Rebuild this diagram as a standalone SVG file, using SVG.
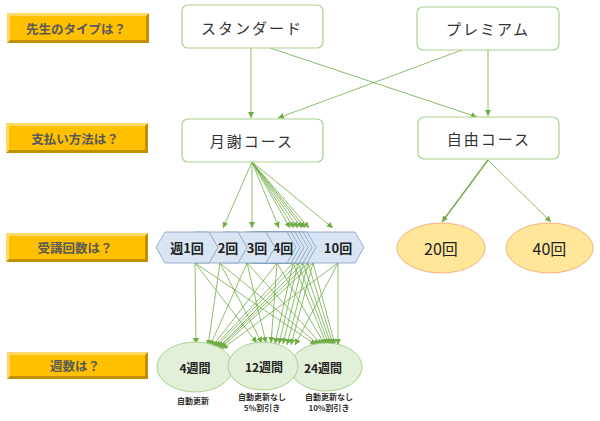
<svg xmlns="http://www.w3.org/2000/svg" width="600" height="421" viewBox="0 0 600 421">
<style>
.lbl{font-family:"Noto Sans CJK JP","Noto Sans",sans-serif;font-size:12.5px;font-weight:bold;fill:#595959;text-anchor:middle;dominant-baseline:central}
.node rect{fill:#fff;stroke:#A9D18E;stroke-width:1.2}
.nt{font-family:"Noto Sans CJK JP",sans-serif;font-size:15px;fill:#333;text-anchor:middle;dominant-baseline:central;letter-spacing:2px}
.hex{fill:#DAE5F3;stroke:#7F9DC0;stroke-width:0.8}
.ht{font-family:"Noto Sans CJK JP",sans-serif;font-size:13px;font-weight:bold;fill:#222;text-anchor:middle;dominant-baseline:central}
.ell{fill:#E2EFD9;stroke:#A9D18E;stroke-width:1}
.et{font-family:"Noto Sans CJK JP",sans-serif;font-size:12px;font-weight:bold;fill:#222;text-anchor:middle;dominant-baseline:central}
.oe{fill:#FFE699;stroke:#F4B183;stroke-width:1}
.ot{font-family:"Noto Sans CJK JP",sans-serif;font-size:16px;fill:#222;text-anchor:middle;dominant-baseline:central}
.st{font-family:"Noto Sans CJK JP",sans-serif;font-size:8px;font-weight:bold;fill:#333;text-anchor:middle}
.c{stroke:#70AD47;stroke-width:0.8;fill:none;marker-end:url(#ah)}
.gold-o{fill:#BF9000}
.gold-l{fill:#FFD966}
.gold-f{fill:#FFC000}
</style>
<defs>
<marker id="ah" viewBox="0 0 10 10" refX="10" refY="5" markerWidth="6" markerHeight="6" markerUnits="userSpaceOnUse" orient="auto">
<path d="M0,0 L10,5 L0,10 z" fill="#70AD47"/>
</marker>
</defs>
<rect width="600" height="421" fill="#fff"/>

<g id="q1">
<rect class="gold-o" x="7" y="13" width="142" height="30"/>
<polygon class="gold-l" points="7,13 149,13 146,16 10,16 10,40 7,43"/>
<rect class="gold-f" x="10" y="16" width="136" height="24"/>
<text class="lbl" x="76" y="28">先生のタイプは？</text>
</g>
<g id="q2">
<rect class="gold-o" x="6" y="123" width="142" height="30"/>
<polygon class="gold-l" points="6,123 148,123 145,126 9,126 9,150 6,153"/>
<rect class="gold-f" x="9" y="126" width="136" height="24"/>
<text class="lbl" x="75" y="138">支払い方法は？</text>
</g>
<g id="q3">
<rect class="gold-o" x="6" y="233" width="142" height="29"/>
<polygon class="gold-l" points="6,233 148,233 145,236 9,236 9,259 6,262"/>
<rect class="gold-f" x="9" y="236" width="136" height="23"/>
<text class="lbl" x="75" y="247.5">受講回数は？</text>
</g>
<g id="q4">
<rect class="gold-o" x="7" y="352" width="141" height="27"/>
<polygon class="gold-l" points="7,352 148,352 145,355 10,355 10,376 7,379"/>
<rect class="gold-f" x="10" y="355" width="135" height="21"/>
<text class="lbl" x="75" y="365.5">週数は？</text>
</g>

<g id="connectors">
<line class="c" x1="251" y1="48" x2="251" y2="118"/>
<line class="c" x1="270" y1="48" x2="477" y2="117"/>
<line class="c" x1="462" y1="50" x2="278" y2="118"/>
<line class="c" x1="488" y1="50" x2="488" y2="116"/>
<line class="c" x1="488" y1="160" x2="442" y2="222" style="stroke-width:1.4"/>
<line class="c" x1="488" y1="160" x2="551" y2="222"/>
<line class="c" x1="252" y1="162" x2="223" y2="228"/>
<line class="c" x1="252" y1="162" x2="252" y2="228"/>
<line class="c" x1="252" y1="162" x2="279" y2="228"/>
<line class="c" x1="252" y1="162" x2="290" y2="228"/>
<line class="c" x1="252" y1="162" x2="294" y2="228"/>
<line class="c" x1="252" y1="162" x2="298" y2="228"/>
<line class="c" x1="252" y1="162" x2="302" y2="228"/>
<line class="c" x1="252" y1="162" x2="305" y2="228"/>
<line class="c" x1="252" y1="162" x2="309" y2="228"/>
<line class="c" x1="252" y1="162" x2="333" y2="228"/>
</g>

<g id="monthly">
<g id="hex10"><polygon class="hex" points="290,247.5 299,232 355,232 364,247.5 355,263 299,263"/><text class="ht" x="338" y="247.5">10回</text></g>
<g id="hex9"><polygon class="hex" points="256,247.5 265,232 307,232 316,247.5 307,263 265,263"/></g>
<g id="hex8"><polygon class="hex" points="252,247.5 261,232 303,232 312,247.5 303,263 261,263"/></g>
<g id="hex7"><polygon class="hex" points="248,247.5 257,232 299,232 308,247.5 299,263 257,263"/></g>
<g id="hex6"><polygon class="hex" points="244,247.5 253,232 295,232 304,247.5 295,263 253,263"/></g>
<g id="hex5"><polygon class="hex" points="240,247.5 249,232 291,232 300,247.5 291,263 249,263"/></g>
<g id="hex4"><polygon class="hex" points="236,247.5 245,232 287,232 296,247.5 287,263 245,263"/><text class="ht" x="283" y="247.5">4回</text></g>
<g id="hex3"><polygon class="hex" points="214,247.5 223,232 266,232 275,247.5 266,263 223,263"/><text class="ht" x="257" y="247.5">3回</text></g>
<g id="hex2"><polygon class="hex" points="186,247.5 195,232 238,232 247,247.5 238,263 195,263"/><text class="ht" x="228" y="247.5">2回</text></g>
<g id="hex1"><polygon class="hex" points="156,247.5 165,232 209,232 218,247.5 209,263 165,263"/><text class="ht" x="187" y="247.5">週1回</text></g>
</g>

<g id="connectors2">
<line class="c" x1="195" y1="263" x2="196" y2="344"/>
<line class="c" x1="220" y1="263" x2="208" y2="346"/>
<line class="c" x1="247" y1="263" x2="210" y2="346"/>
<line class="c" x1="277" y1="263" x2="212" y2="347"/>
<line class="c" x1="293" y1="263" x2="214" y2="347"/>
<line class="c" x1="298" y1="263" x2="216" y2="347"/>
<line class="c" x1="303" y1="263" x2="218" y2="348"/>
<line class="c" x1="308" y1="263" x2="219" y2="348"/>
<line class="c" x1="313" y1="263" x2="221" y2="348"/>
<line class="c" x1="338" y1="263" x2="222" y2="349"/>
<line class="c" x1="195" y1="263" x2="257" y2="343"/>
<line class="c" x1="220" y1="263" x2="262" y2="343"/>
<line class="c" x1="247" y1="263" x2="266" y2="343"/>
<line class="c" x1="277" y1="263" x2="271" y2="343"/>
<line class="c" x1="293" y1="263" x2="275" y2="344"/>
<line class="c" x1="298" y1="263" x2="279" y2="344"/>
<line class="c" x1="303" y1="263" x2="283" y2="344"/>
<line class="c" x1="308" y1="263" x2="287" y2="345"/>
<line class="c" x1="313" y1="263" x2="291" y2="345"/>
<line class="c" x1="338" y1="263" x2="295" y2="345"/>
<line class="c" x1="195" y1="263" x2="316" y2="345"/>
<line class="c" x1="220" y1="263" x2="319" y2="345"/>
<line class="c" x1="247" y1="263" x2="322" y2="345"/>
<line class="c" x1="277" y1="263" x2="325" y2="345"/>
<line class="c" x1="293" y1="263" x2="327" y2="345"/>
<line class="c" x1="298" y1="263" x2="329" y2="345"/>
<line class="c" x1="303" y1="263" x2="331" y2="345"/>
<line class="c" x1="308" y1="263" x2="333" y2="345"/>
<line class="c" x1="313" y1="263" x2="335" y2="345"/>
<line class="c" x1="338" y1="263" x2="338" y2="345"/>
</g>

<g id="standard" class="node"><rect x="182" y="5" width="141" height="43" rx="6"/><text class="nt" x="252" y="27">スタンダード</text></g>
<g id="premium" class="node"><rect x="417" y="7" width="142" height="43" rx="6"/><text class="nt" x="488" y="28.5">プレミアム</text></g>
<g id="gessha" class="node"><rect x="182" y="119" width="141" height="43" rx="6"/><text class="nt" x="252" y="140.5">月謝コース</text></g>
<g id="jiyu" class="node"><rect x="418" y="117" width="141" height="42" rx="6"/><text class="nt" x="489" y="138">自由コース</text></g>

<g id="n20"><ellipse class="oe" cx="441" cy="248" rx="44" ry="25"/><text class="ot" x="441" y="248">20回</text></g>
<g id="n40"><ellipse class="oe" cx="549.5" cy="248" rx="43.5" ry="25"/><text class="ot" x="549.5" y="248">40回</text></g>

<g id="w4"><ellipse class="ell" cx="195" cy="367" rx="38" ry="25"/><text class="et" x="195" y="367">4週間</text><text class="st" x="193" y="404">自動更新</text></g>
<g id="w24"><ellipse class="ell" cx="326" cy="367" rx="36" ry="24"/><text class="et" x="323" y="367">24週間</text><text class="st" x="329" y="400">自動更新なし</text><text class="st" x="329" y="411">10%割引き</text></g>
<g id="w12"><ellipse class="ell" cx="263" cy="366" rx="35" ry="24"/><text class="et" x="264" y="366">12週間</text><text class="st" x="262" y="400">自動更新なし</text><text class="st" x="262" y="411">5%割引き</text></g>
</svg>
